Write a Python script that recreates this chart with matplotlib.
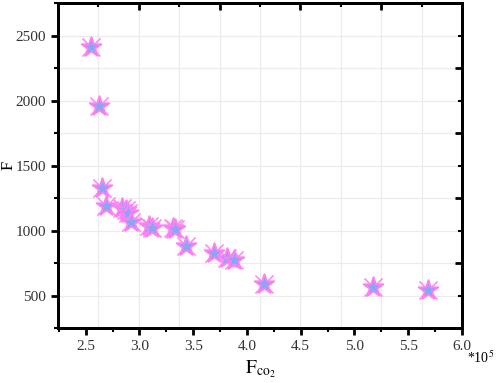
import matplotlib.pyplot as plt
import numpy as np
from matplotlib.ticker import MultipleLocator, NullFormatter

# F_co2 (*10^5) and F values
f_co2 = [2.547, 2.62, 2.655, 2.687, 2.836, 2.87, 2.897, 2.92, 3.084, 3.115,
         3.31, 3.335, 3.436, 3.69, 3.815, 3.877, 4.157, 5.177, 5.687]
f_val = [2415, 1958, 1328, 1187, 1175, 1160, 1136, 1064, 1033, 1021,
         1021, 1008, 879, 828, 790, 777, 590, 567, 546]

x_ticks = [2.5, 3.0, 3.5, 4.0, 4.5, 5.0, 5.5, 6.0]
y_ticks = [500, 1000, 1500, 2000, 2500]

plt.rcParams['font.family'] = ['Liberation Serif', 'DejaVu Serif']
plt.rcParams['mathtext.fontset'] = 'stix'

fig = plt.figure(figsize=(4.98, 3.83), dpi=100)
ax = fig.add_axes([0.1165, 0.1436, 0.811, 0.8484])
ax.set_xlim(2.242, 6.0)
ax.set_ylim(250, 2750)

# top / right frame axes carry the grid and the inner ticks
ax_top = ax.twiny()
ax_right = ax.twinx()
ax_top.set_xlim(0, 10)
ax_right.set_ylim(0, 10)
for axis in (ax_top.xaxis, ax_right.yaxis):
    axis.set_major_locator(MultipleLocator(2))
    axis.set_minor_locator(MultipleLocator(1))
    axis.set_major_formatter(NullFormatter())
ax_top.grid(axis='x', which='both', color='#ebebeb', lw=0.9)
ax_right.grid(axis='y', which='both', color='#ebebeb', lw=0.9)
ax_top.tick_params(axis='x', which='major', direction='in', length=5, width=2)
ax_top.tick_params(axis='x', which='minor', direction='in', length=3, width=1.5)
ax_right.tick_params(axis='y', which='major', direction='in', length=5, width=2)
ax_right.tick_params(axis='y', which='minor', direction='in', length=3, width=1.5)
ax_top.set_yticks([])
ax_right.set_xticks([])

ax.set_zorder(ax_right.get_zorder() + 1)
ax.patch.set_visible(False)

ax.scatter(f_co2, f_val, marker='x', s=170, color='#ff8cf0', lw=1.2, zorder=3)
ax.scatter(f_co2, f_val, marker='*', s=220, facecolor='#86a8f0',
           edgecolor='#ff80f4', lw=1.4, zorder=4)

ax.set_xticks(x_ticks)
ax.set_xticklabels([f'{v:.1f}' for v in x_ticks])
ax.set_yticks(y_ticks)
ax.xaxis.set_minor_locator(MultipleLocator(0.25))
ax.yaxis.set_minor_locator(MultipleLocator(250))
ax.tick_params(which='major', direction='out', length=5, width=2, labelsize=11,
               colors='black', labelcolor='#333333')
ax.tick_params(which='minor', direction='out', length=3, width=1.5)

for a in (ax, ax_top, ax_right):
    for s in a.spines.values():
        s.set_linewidth(2)

ax.set_xlabel(r'$\mathrm{F_{co_2}}$', fontsize=14, labelpad=4)
ax.set_ylabel('F', fontsize=12, va='center')
ax.yaxis.set_label_coords(-0.122, 0.5)
fig.text(0.965, 0.065, r'*10$^5$', fontsize=10, ha='center', va='center')

fig.savefig('out.png', dpi=100)
